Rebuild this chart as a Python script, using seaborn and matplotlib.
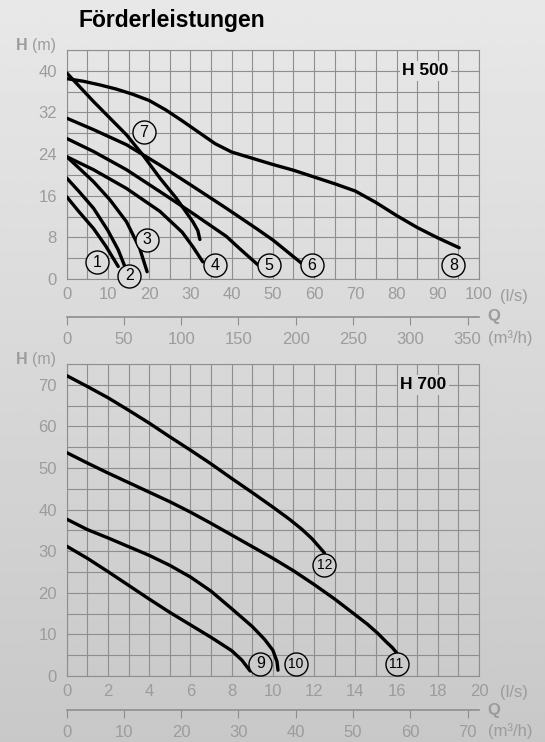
import numpy as np
import pandas as pd
import seaborn as sns
import matplotlib
matplotlib.use("Agg")
import matplotlib.pyplot as plt

# ---- H 500 pump curves (Q in l/s, H in m)
c1_q = [0, 3, 6.5, 9.5, 12.5]
c1_h = [15.8, 12.9, 9.7, 6.3, 2.4]
c2_q = [0, 3, 6.5, 10, 12.5, 14.1]
c2_h = [19.4, 16.8, 13.6, 9.3, 5.6, 2.4]
c3_q = [0, 3, 6.5, 10.5, 14.5, 17.7, 19.5]
c3_h = [23.5, 21.3, 18.7, 15.2, 11.0, 5.9, 1.4]
c4_q = [0, 6.5, 14.5, 22.6, 28, 30.6, 33]
c4_h = [23.5, 21.0, 17.4, 13.0, 9.0, 6.2, 3.3]
c5_q = [0, 6.5, 14.5, 22.6, 30.6, 38.7, 42, 46.4]
c5_h = [27.0, 24.5, 21.0, 16.8, 12.6, 8.2, 5.8, 2.7]
c6_q = [0, 6.5, 14.5, 22.6, 30.6, 38.7, 46, 50, 57]
c6_h = [30.9, 28.7, 25.8, 21.9, 17.8, 13.6, 9.7, 7.5, 3.0]
c7_q = [0, 6.5, 14.5, 18.5, 22.6, 26.6, 30.6, 31.8, 32.3]
c7_h = [39.6, 34.1, 27.7, 23.8, 19.4, 15.5, 11.0, 9.3, 7.6]
c8_q = [0, 4, 8, 12, 16, 20, 24, 28, 32, 36, 40, 45, 50, 55, 60, 65, 70,
        75, 80, 85, 90, 95.2]
c8_h = [38.5, 38.0, 37.3, 36.5, 35.5, 34.3, 32.5, 30.4, 28.2, 26.0, 24.4,
        23.2, 22.0, 20.9, 19.6, 18.3, 16.9, 14.7, 12.2, 9.9, 7.9, 6.0]

h500_names = ["1", "2", "3", "4", "5", "6", "7", "8"]
h500_lab_q = [7.4, 15.2, 19.4, 35.9, 49, 59.5, 18.7, 93.8]
h500_lab_h = [3.2, 0.6, 7.5, 2.6, 2.6, 2.6, 28.2, 2.6]

# ---- H 700 pump curves
c9_q = [0, 1, 2, 3, 4, 5, 6, 7, 8, 8.5, 8.9]
c9_h = [31.2, 28.3, 25.1, 21.8, 18.5, 15.3, 12.3, 9.3, 6.1, 3.8, 1.2]
c10_q = [0, 1, 2, 3, 4, 5, 6, 7, 8, 9, 9.6, 10, 10.2, 10.25]
c10_h = [37.7, 35.2, 33.2, 31.1, 29.0, 26.6, 23.8, 20.4, 16.2, 11.9, 8.8, 6.2, 3.5, 1.4]
c11_q = [0, 1, 2, 3, 4, 5, 6, 7, 8, 9, 10, 11, 12, 13, 14, 14.6, 15.1,
         15.5, 15.8, 16]
c11_h = [53.7, 51.2, 48.8, 46.5, 44.2, 41.9, 39.4, 36.7, 33.9, 31.1, 28.3,
         25.3, 22.0, 18.5, 14.7, 12.4, 10.2, 8.2, 6.8, 5.6]
c12_q = [0, 1, 2, 3, 4, 5, 6, 7, 8, 9, 10, 10.8, 11.4, 11.9, 12.2, 12.5]
c12_h = [72.2, 69.6, 66.9, 63.9, 60.8, 57.5, 54.3, 51.0, 47.5, 44.1, 40.6,
         37.7, 35.3, 33.0, 31.3, 29.6]

h700_names = ["9", "10", "11", "12"]
h700_lab_q = [9.4, 11.1, 16.0, 12.5]
h700_lab_h = [3.0, 2.9, 2.9, 26.8]

m3h_ticks_500 = [0, 50, 100, 150, 200, 250, 300, 350]
m3h_ticks_700 = [0, 10, 20, 30, 40, 50, 60, 70]


def make_df(curves):
    frames = []
    for name, q, h in curves:
        frames.append(pd.DataFrame({"Q": q, "H": h, "curve": name}))
    return pd.concat(frames, ignore_index=True)


df500 = make_df([("1", c1_q, c1_h), ("2", c2_q, c2_h), ("3", c3_q, c3_h),
                 ("4", c4_q, c4_h), ("5", c5_q, c5_h), ("6", c6_q, c6_h),
                 ("7", c7_q, c7_h), ("8", c8_q, c8_h)])
df700 = make_df([("9", c9_q, c9_h), ("10", c10_q, c10_h),
                 ("11", c11_q, c11_h), ("12", c12_q, c12_h)])

sns.set_style("white")
plt.rcParams["font.family"] = ["Liberation Sans", "DejaVu Sans"]

W, HP = 545, 742
GRID = "#8e8e8e"
TICK = "#9c9c9c"
BG_TOP, BG_BOT = 232, 200
FS = 12


def bg_col(y_px):
    v = (BG_TOP - (BG_TOP - BG_BOT) * y_px / HP) / 255
    return (v, v, v)


fig = plt.figure(figsize=(W / 100, HP / 100), dpi=100)
bg = fig.add_axes([0, 0, 1, 1], zorder=-10)
grad = np.linspace(BG_TOP / 255, BG_BOT / 255, 256).reshape(-1, 1)
bg.imshow(grad, aspect="auto", cmap="gray", vmin=0, vmax=1,
          extent=[0, 1, 0, 1], origin="upper")
bg.axis("off")


def panel(top_px, bot_px, df, xmax, xmaj, xmin, ymax, ymaj, ymin,
          sec_ticks, sec_px, title, title_q, title_h,
          names, lq, lh):
    ax = fig.add_axes([66.7 / W, 1 - bot_px / HP, (479 - 66.7) / W,
                       (bot_px - top_px) / HP])
    ax.set_facecolor("none")
    sns.lineplot(data=df, x="Q", y="H", units="curve", estimator=None,
                 sort=False, color="black", lw=2.4, ax=ax, legend=False,
                 zorder=3)
    ax.set_xlim(0, xmax)
    ax.set_ylim(0, ymax)
    ax.set_xticks(np.arange(0, xmax + 0.01, xmaj))
    ax.set_xticks(np.arange(0, xmax + 0.01, xmin), minor=True)
    ax.set_yticks(np.arange(0, ymax - ymin + 0.01, ymaj))
    ax.set_yticks(np.arange(0, ymax + 0.01, ymin), minor=True)
    ax.grid(True, which="both", color=GRID, lw=0.8)
    ax.set_axisbelow(True)
    ax.tick_params(which="both", length=0, labelcolor=TICK, labelsize=FS)
    ax.tick_params(axis="x", pad=6)
    ax.tick_params(axis="y", pad=7)
    ax.set_xlabel("")
    ax.set_ylabel("")
    for s in ax.spines.values():
        s.set_color(GRID)
        s.set_linewidth(0.8)

    sec = ax.secondary_xaxis((bot_px - sec_px) / (bot_px - top_px),
                             functions=(lambda q: q * 3.6, lambda m: m / 3.6))
    sec.set_xticks(sec_ticks)
    sec.tick_params(direction="out", length=6, width=0.8, color=GRID,
                    labelcolor=TICK, labelsize=FS, pad=5)
    for s in sec.spines.values():
        s.set_color(GRID)
        s.set_linewidth(1.2)

    ax.text(title_q, title_h, title, ha="center", va="center",
            fontsize=12.5, fontweight="bold", color="black", zorder=5,
            bbox=dict(boxstyle="square,pad=0.15", fc=bg_col(top_px + 20),
                      ec="none"))

    for n, q, h in zip(names, lq, lh):
        ypx = bot_px - (bot_px - top_px) * h / ymax
        ax.scatter([q], [h], s=275, marker="o", facecolor=bg_col(ypx),
                   edgecolor="black", linewidth=1.0, zorder=6, clip_on=False)
        ax.text(q, h, n, ha="center", va="center",
                fontsize=11.5 if len(n) == 1 else 10, color="black",
                zorder=7, clip_on=False)

    # axis annotations
    fig.text(16 / W, 1 - (top_px) / HP, "H", fontsize=11.5, fontweight="bold",
             color=TICK, ha="left", va="baseline")
    fig.text(32 / W, 1 - (top_px) / HP, "(m)", fontsize=11.5,
             color=TICK, ha="left", va="baseline")
    fig.text(500 / W, 1 - (bot_px + 17) / HP, "(l/s)", fontsize=FS,
             color=TICK, ha="left", va="center")
    fig.text(494 / W, 1 - sec_px / HP, "Q", fontsize=FS, fontweight="bold",
             color=TICK, ha="center", va="center")
    fig.text(488 / W, 1 - (sec_px + 21) / HP, "(m³/h)", fontsize=FS,
             color=TICK, ha="left", va="center")
    return ax


panel(50, 279, df500, 100, 10, 5, 44, 8, 4, m3h_ticks_500, 317,
      "H 500", 87, 40, h500_names, h500_lab_q, h500_lab_h)
panel(364, 676, df700, 20, 2, 1, 75, 10, 5, m3h_ticks_700, 710,
      "H 700", 17.3, 70, h700_names, h700_lab_q, h700_lab_h)

fig.text(79 / W, 1 - 27 / HP, "Förderleistungen", fontsize=16.5,
         fontweight="bold", color="black", ha="left", va="baseline")

fig.savefig("out.png", dpi=100)
